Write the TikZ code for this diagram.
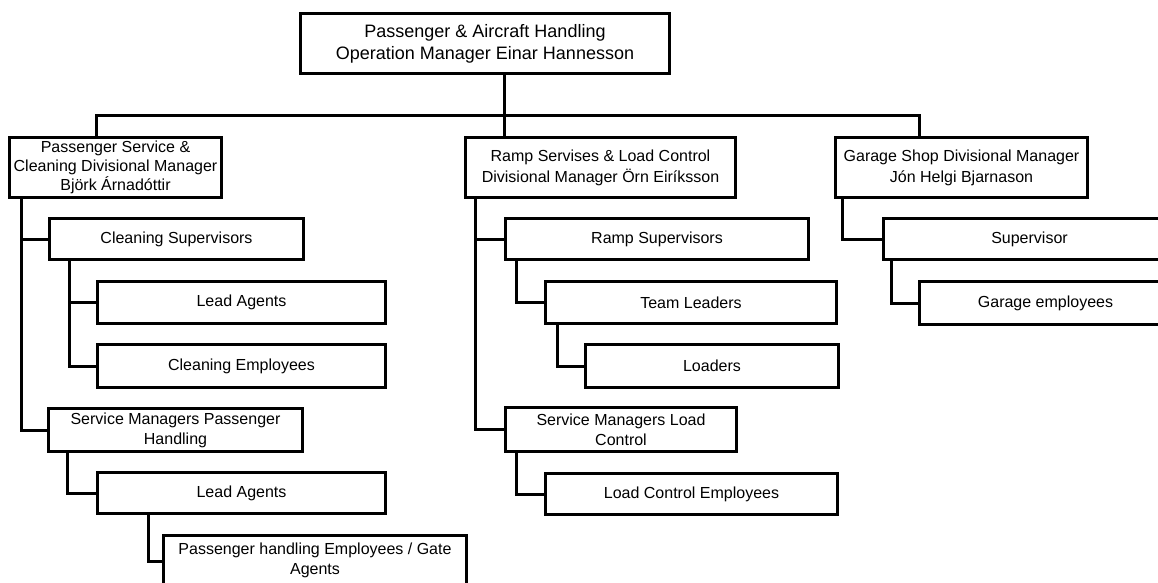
\documentclass[tikz,border=0pt]{standalone}
\usepackage{fontspec}
\setmainfont{Liberation Sans}
\begin{document}
\begin{tikzpicture}[x=1pt,y=-1pt,
  box/.style={draw, line width=3pt, rectangle, inner sep=0pt, anchor=north west,
              align=center, fill=white, font=\fontsize{16}{20}\selectfont},
  link/.style={line width=3pt, line join=miter}]
\useasboundingbox (0,0) rectangle (1158,582);
\clip (0,0) rectangle (1158,582);

% operations manager
\node[box, minimum width=369pt, minimum height=60pt, font=\fontsize{18}{22}\selectfont] (top) at (299,12)
  {Passenger \& Aircraft Handling\\Operation Manager Einar Hannesson};

% divisional managers
\node[box, minimum width=212pt, minimum height=60pt, font=\fontsize{16}{19}\selectfont] (pas) at (8,136)
  {Passenger Service \&\\Cleaning Divisional Manager\\Björk Árnadóttir};
\node[box, minimum width=270pt, minimum height=60pt, font=\fontsize{16}{21}\selectfont] (ramp) at (464,136)
  {Ramp Servises \& Load Control\\Divisional Manager Örn Eiríksson};
\node[box, minimum width=252pt, minimum height=60pt, font=\fontsize{16}{21}\selectfont] (gar) at (834,136)
  {Garage Shop Divisional Manager\\Jón Helgi Bjarnason};

% passenger service & cleaning
\node[box, minimum width=254pt, minimum height=41pt] (csup) at (48,217) {Cleaning Supervisors};
\node[box, minimum width=288pt, minimum height=42pt] (la1) at (96,280) {Lead Agents};
\node[box, minimum width=288pt, minimum height=43pt] (cemp) at (96,343) {Cleaning Employees};
\node[box, minimum width=254pt, minimum height=43pt] (smph) at (47,407) {Service Managers Passenger\\Handling};
\node[box, minimum width=288pt, minimum height=41pt] (la2) at (96,471) {Lead Agents};
\node[box, minimum width=303pt, minimum height=66pt] (phe) at (162,534)
  {Passenger handling Employees / Gate\\Agents\\\mbox{}};

% ramp services & load control
\node[box, minimum width=303pt, minimum height=41pt] (rsup) at (504,217) {Ramp Supervisors};
\node[box, minimum width=291pt, minimum height=42pt] (tl) at (544,280) {Team Leaders};
\node[box, minimum width=253pt, minimum height=43pt] (load) at (584,343) {Loaders};
\node[box, minimum width=231pt, minimum height=44pt] (smlc) at (504,406) {Service Managers Load\\Control};
\node[box, minimum width=292pt, minimum height=41pt] (lce) at (544,472) {Load Control Employees};

% garage shop
\node[box, minimum width=292pt, minimum height=41pt] (sup) at (882,217) {Supervisor};
\node[box, minimum width=252pt, minimum height=43pt] (gemp) at (918,280) {Garage employees};

% top level bus
\coordinate (bus) at (504,115);
\draw[link] (top.south -| bus) -- (ramp.north -| bus);
\draw[link] ([xshift=88pt]pas.north west) |- (bus) -| ([xshift=85pt]gar.north west);

% passenger service & cleaning links
\draw[link] ([xshift=13pt]pas.south west) |- (csup.west);
\draw[link] ([xshift=13pt]pas.south west) |- (smph.west);
\draw[link] ([xshift=21pt]csup.south west) |- (la1.west);
\draw[link] ([xshift=21pt]csup.south west) |- (cemp.west);
\draw[link] ([xshift=20pt]smph.south west) |- (la2.west);
\draw[link] ([xshift=52pt]la2.south west) |- ([yshift=7pt]phe.west);

% ramp services & load control links
\draw[link] ([xshift=11pt]ramp.south west) |- (rsup.west);
\draw[link] ([xshift=11pt]ramp.south west) |- (smlc.west);
\draw[link] ([xshift=12pt]rsup.south west) |- (tl.west);
\draw[link] ([xshift=13pt]tl.south west) |- (load.west);
\draw[link] ([xshift=12pt]smlc.south west) |- (lce.west);

% garage shop links
\draw[link] ([xshift=8pt]gar.south west) |- (sup.west);
\draw[link] ([xshift=9pt]sup.south west) |- (gemp.west);
\end{tikzpicture}
\end{document}
